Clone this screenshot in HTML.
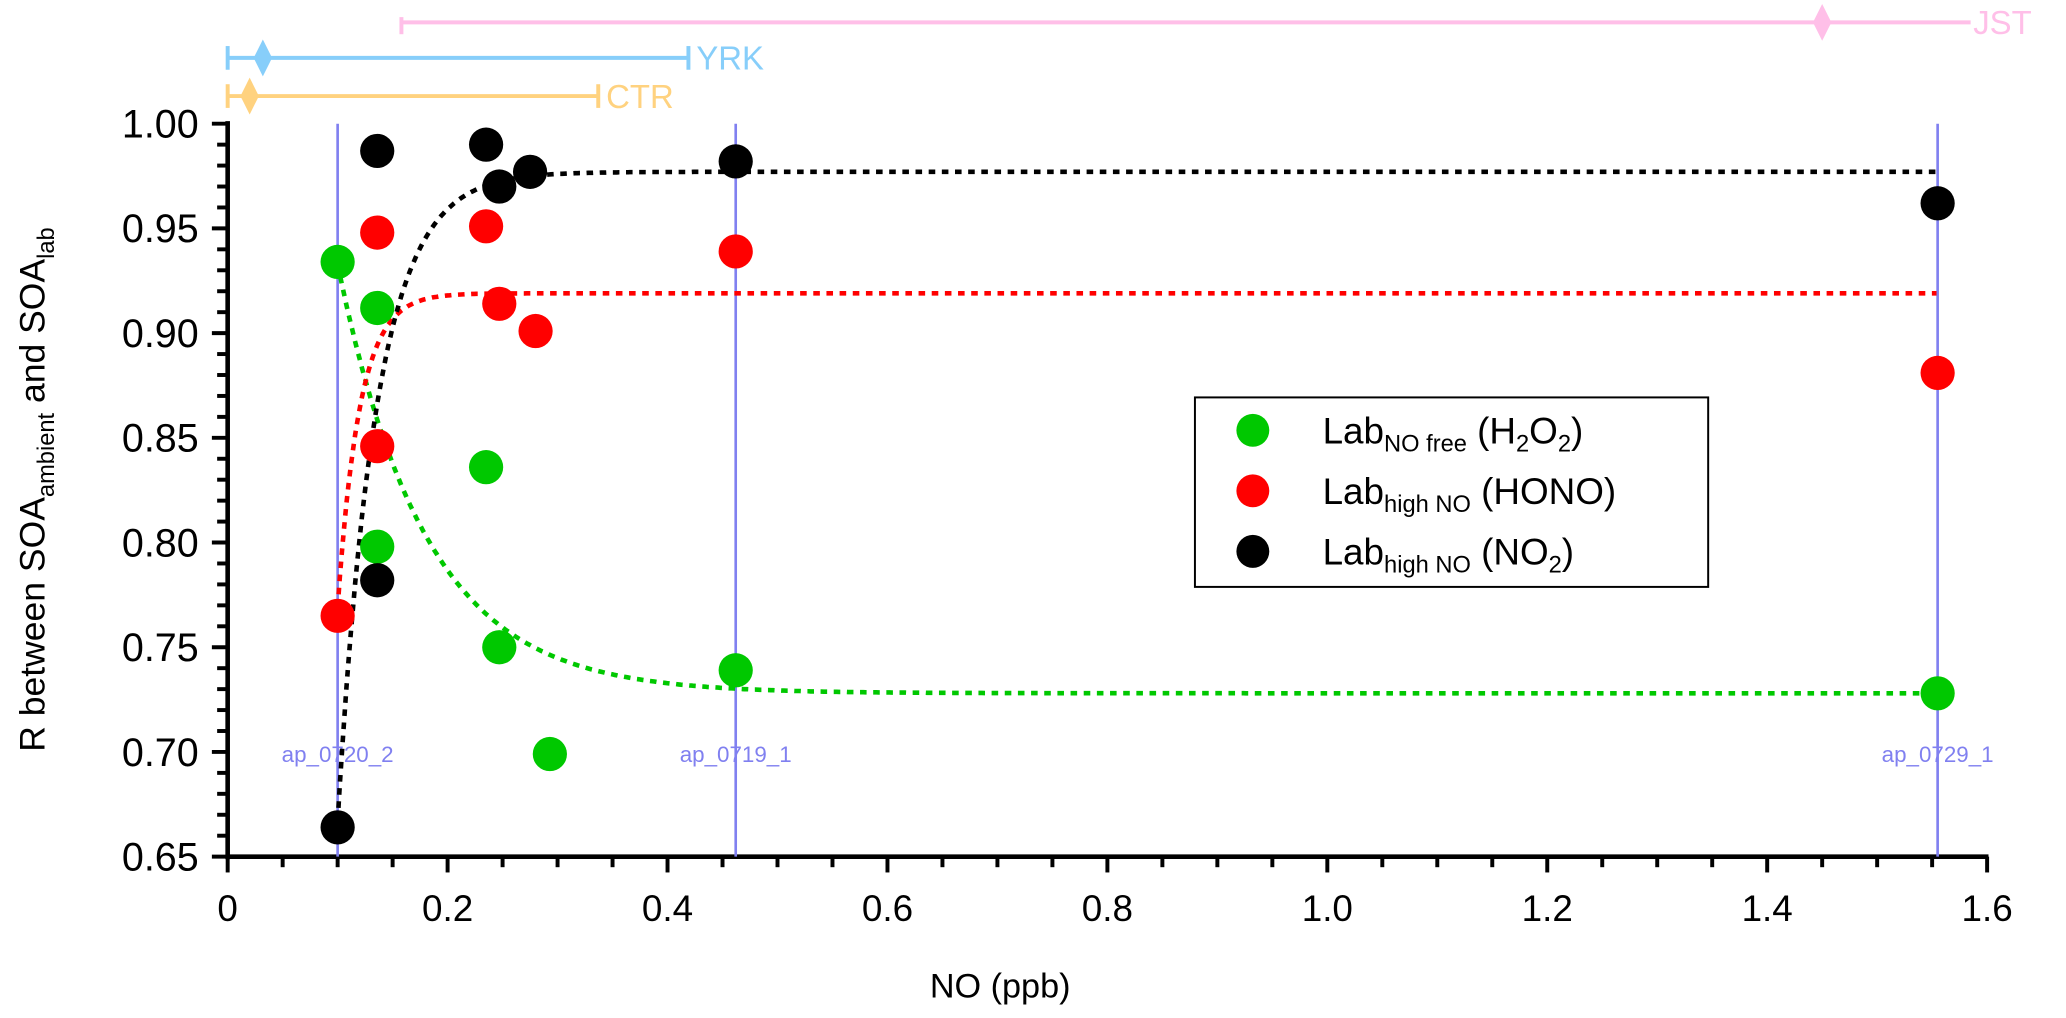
<!DOCTYPE html>
<html><head><meta charset="utf-8"><style>
html,body{margin:0;padding:0;background:#fff;}
svg{display:block;font-family:"Liberation Sans",Arial,sans-serif;}
</style></head><body>
<svg id="chart" width="2066" height="1018" viewBox="0 0 1569.9 773.6" preserveAspectRatio="none" xmlns="http://www.w3.org/2000/svg">
<g id="top-bars"></g>
<g id="axes"></g>
<g id="vlines"></g>
<g id="fits"></g>
<g id="points"></g>
<g id="legend">
  <rect x="908" y="302" width="390" height="144" fill="#fff" stroke="#000" stroke-width="1.5"/>
  <g>
    <circle cx="952" cy="327" r="12.5" fill="#00c800"/>
    <text x="1005" y="337" font-size="28">Lab<tspan font-size="18" dy="6">NO free</tspan><tspan dy="-6"> (H</tspan><tspan font-size="18" dy="6">2</tspan><tspan dy="-6">O</tspan><tspan font-size="18" dy="6">2</tspan><tspan dy="-6">)</tspan></text>
  </g>
  <g>
    <circle cx="952" cy="373" r="12.5" fill="#ff0000"/>
    <text x="1005" y="383" font-size="28">Lab<tspan font-size="18" dy="6">high NO</tspan><tspan dy="-6"> (HONO)</tspan></text>
  </g>
  <g>
    <circle cx="952" cy="419" r="12.5" fill="#000"/>
    <text x="1005" y="429" font-size="28">Lab<tspan font-size="18" dy="6">high NO</tspan><tspan dy="-6"> (NO</tspan><tspan font-size="18" dy="6">2</tspan><tspan dy="-6">)</tspan></text>
  </g>
</g>
<text x="760" y="758" font-size="26" text-anchor="middle">NO (ppb)</text>
<text transform="translate(34,372) rotate(-90)" font-size="27" text-anchor="middle">R between SOA<tspan font-size="18" dy="7">ambient</tspan><tspan dy="-7"> and SOA</tspan><tspan font-size="18" dy="7">lab</tspan></text>
</svg>
<script>
const NS="http://www.w3.org/2000/svg";
// data
const xTicks=[0,0.2,0.4,0.6,0.8,1.0,1.2,1.4,1.6];
const xTickLabels=["0","0.2","0.4","0.6","0.8","1.0","1.2","1.4","1.6"];
const yTicks=[0.65,0.70,0.75,0.80,0.85,0.90,0.95,1.00];
const yTickLabels=["0.65","0.70","0.75","0.80","0.85","0.90","0.95","1.00"];
const greenX=[0.1,0.136,0.136,0.235,0.247,0.293,0.462,1.555];
const greenY=[0.934,0.912,0.798,0.836,0.750,0.699,0.739,0.728];
const redX=[0.1,0.136,0.136,0.235,0.247,0.28,0.462,1.555];
const redY=[0.765,0.948,0.846,0.951,0.914,0.901,0.939,0.881];
const blackX=[0.1,0.136,0.136,0.235,0.247,0.275,0.462,1.555];
const blackY=[0.664,0.987,0.782,0.990,0.970,0.977,0.982,0.962];
// fit params: [plateau, amplitude, x0, tau]
const greenFit=[0.728,0.205,0.1,0.08];
const redFit=[0.919,-0.15,0.1,0.02];
const blackFit=[0.977,-0.31,0.1,0.035];
const sampleX=[0.1,0.462,1.555];
const sampleLabels=["ap_0720_2","ap_0719_1","ap_0729_1"];
const siteNames=["CTR","YRK","JST"];
const siteLo=[0.0,0.0,0.158];
const siteHi=[0.337,0.419,1.585];
const siteMid=[0.02,0.032,1.45];

const X=v=>173+v*835.6;
const Y=v=>94+(1-v)*1591.4;
function mk(tag,attrs,parent){const e=document.createElementNS(NS,tag);for(const k in attrs)e.setAttribute(k,attrs[k]);parent.appendChild(e);return e;}

const axes=document.getElementById('axes');
let l=mk('line',{x1:173,y1:92,x2:173,y2:653},axes);
l.setAttribute('stroke','#000');l.setAttribute('stroke-width','3.5');


l=mk('line',{x1:171.5,y1:651,x2:1511,y2:651,stroke:'#000','stroke-width':3.5},axes);


for(let i=0;i<=35;i++){const v=0.65+i*0.01;const maj=i%5===0;
  mk('line',{x1:173-(maj?12:8),y1:Y(v),x2:173,y2:Y(v),stroke:'#000','stroke-width':3},axes);}
yTicks.forEach((v,i)=>{const t=mk('text',{x:151,y:Y(v)+10.5,'font-size':30,'text-anchor':'end'},axes);t.textContent=yTickLabels[i];
  
  });
for(let i=0;i<=32;i++){const v=i*0.05;const maj=i%4===0;
  mk('line',{x1:X(v),y1:651,x2:X(v),y2:651+(maj?12:8),stroke:'#000','stroke-width':3},axes);}
xTicks.forEach((v,i)=>{const t=mk('text',{x:X(v),y:700,'font-size':28,'text-anchor':'middle'},axes);t.textContent=xTickLabels[i];
  
  });

const vl=document.getElementById('vlines');
sampleX.forEach((v,i)=>{const ln=mk('line',{x1:X(v),y1:94,x2:X(v),y2:651,stroke:'#8080f0','stroke-width':2},vl);
  
  
  const t=mk('text',{x:X(v),y:579,'font-size':17,fill:'#8080f0','text-anchor':'middle'},vl);t.textContent=sampleLabels[i];
  
  });

const tb=document.getElementById('top-bars');
const siteY=[73,44,17];const siteC=['#ffd27f','#87cefa','#ffbfe8'];
siteNames.forEach((n,i)=>{const y=siteY[i],c=siteC[i];
  const g=mk('g',{},tb);
  
  
  mk('line',{x1:X(siteLo[i]),y1:y,x2:X(siteHi[i]),y2:y,stroke:c,'stroke-width':3},g);
  mk('line',{x1:X(siteLo[i]),y1:y-(i==2?4:9),x2:X(siteLo[i]),y2:y+9,stroke:c,'stroke-width':3},g);
  if(i<2)mk('line',{x1:X(siteHi[i]),y1:y-9,x2:X(siteHi[i]),y2:y+9,stroke:c,'stroke-width':3},g);
  const mx=X(siteMid[i]);
  mk('polygon',{points:`${mx},${y-14} ${mx+7},${y} ${mx},${y+14} ${mx-7},${y}`,fill:c},g);
  const t=mk('text',{x:X(siteHi[i])+(i==2?2:6),y:y+9,'font-size':25,fill:c},g);t.textContent=n;});

const fits=document.getElementById('fits');
[[greenFit,'#00c800','fit-h2o2'],[redFit,'#ff0000','fit-hono'],[blackFit,'#000','fit-no2']].forEach(([p,c,n])=>{
  let d='';for(let x=p[2];x<=1.5551;x+=0.002){const y=p[0]+p[1]*Math.exp(-(x-p[2])/p[3]);d+=(d?'L':'M')+X(x).toFixed(1)+','+Y(y).toFixed(1);}
  const pa=mk('path',{d:d,fill:'none',stroke:c,'stroke-width':3.5,'stroke-dasharray':'5 5'},fits);
  
  });

const pts=document.getElementById('points');
[[greenX,greenY,'#00c800','point-h2o2'],[redX,redY,'#ff0000','point-hono'],[blackX,blackY,'#000','point-no2']].forEach(([xs,ys,c,n])=>{
  xs.forEach((x,i)=>{const ci=mk('circle',{cx:X(x),cy:Y(ys[i]),r:13,fill:c},pts);
    
    });});
</script>
</body></html>
